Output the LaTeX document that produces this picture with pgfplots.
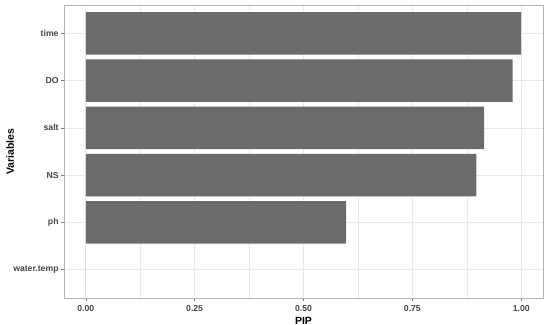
\documentclass[border=0pt]{standalone}
\usepackage{pgfplots}
\pgfplotsset{compat=1.18}
\usepackage{fontspec}
\setmainfont{Liberation Sans}
\definecolor{barfill}{HTML}{6B6B6B}
\definecolor{gridmaj}{HTML}{E8E8E8}
\definecolor{ticklab}{HTML}{454545}
\definecolor{border}{HTML}{B3B3B3}
\begin{document}
\begin{tikzpicture}
\path[use as bounding box] (-64bp,-27bp) rectangle (486bp,298bp);
\begin{axis}[
  at={(0,0)}, anchor=south west,
  scale only axis, width=479bp, height=293bp,
  xmin=-0.05, xmax=1.05, ymin=0.4, ymax=6.6,
  xbar, bar width=0.9,
  ytick={1,2,3,4,5,6},
  yticklabels={water.temp,ph,NS,salt,DO,time},
  xtick={0,0.25,0.5,0.75,1},
  xticklabels={0.00,0.25,0.50,0.75,1.00},
  minor xtick={0.125,0.375,0.625,0.875},
  grid=both,
  major grid style={draw=gridmaj, line width=0.6bp},
  minor grid style={draw=gridmaj, line width=0.4bp},
  axis line style={draw=border, line width=0.6bp},
  tick style={draw=ticklab!70, line width=0.5bp},
  tick align=outside, tick pos=left,
  major tick length=2.75bp, minor tick length=0pt,
  ticklabel style={font=\bfseries\fontsize{8.7}{10}\selectfont, text=ticklab},
  yticklabel style={inner sep=0pt, xshift=-2.5bp},
  xticklabel style={inner sep=0pt, yshift=-4.5bp},
  xlabel={PIP}, ylabel={Variables},
  label style={font=\bfseries\fontsize{10.5}{12}\selectfont, text=black},
  xlabel style={at={(rel axis cs:0.5,-0.077)}, anchor=center},
  ylabel style={at={(rel axis cs:-0.1127,0.5)}, anchor=center},
]
\addplot[fill=barfill, draw=none] coordinates {
  (0,1) (0.598,2) (0.897,3) (0.915,4) (0.980,5) (1.0,6)
};
\end{axis}
\end{tikzpicture}
\end{document}
